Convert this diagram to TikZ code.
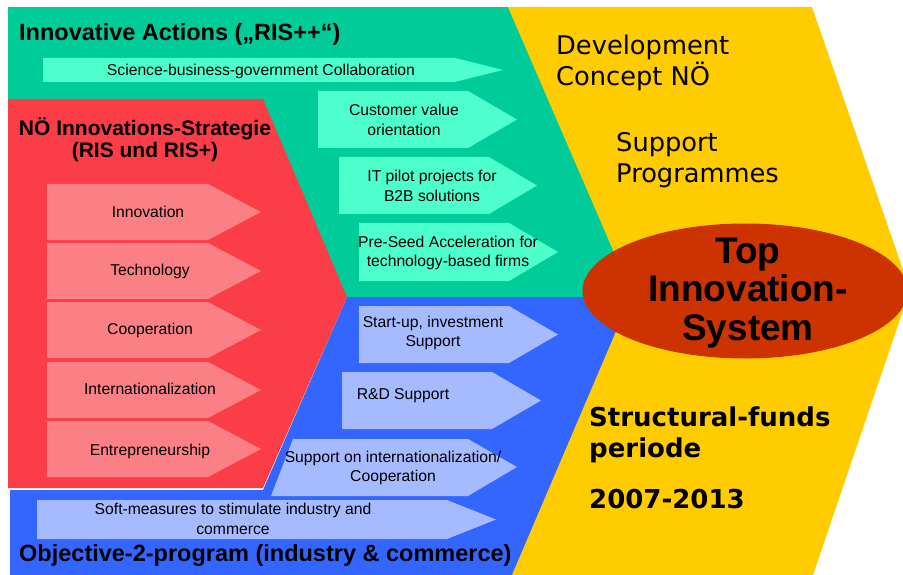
\documentclass[tikz,border=0pt]{standalone}
\usepackage{fontspec}
\setmainfont{Liberation Sans}
\newfontfamily\verafont{DejaVu Sans}
\usetikzlibrary{shapes.geometric}

\definecolor{grn}{RGB}{0,204,153}
\definecolor{grnlight}{RGB}{77,255,204}
\definecolor{rd}{RGB}{250,61,70}
\definecolor{rdlight}{RGB}{250,128,134}
\definecolor{blu}{RGB}{51,102,255}
\definecolor{blulight}{RGB}{166,187,255}
\definecolor{yel}{RGB}{255,204,0}
\definecolor{rust}{RGB}{204,51,0}

% arrow box: fill, left, top, body end, tip, bottom
\newcommand{\pfeil}[6]{\fill[#1] (#2,#3) -- (#4,#3) -- (#5,{(#3+#6)/2}) -- (#4,#6) -- (#2,#6) -- cycle;}

\tikzset{
  lbl/.style={font=\fontsize{15.7}{19.5}\selectfont, align=center, inner sep=0pt},
  head/.style={font=\bfseries\fontsize{23.5}{24}\selectfont, align=center, inner sep=0pt},
  big/.style={font=\verafont\fontsize{25.7}{31}\selectfont, align=left, anchor=west, inner sep=0pt},
  bigbf/.style={big, font=\verafont\bfseries\fontsize{26}{31}\selectfont},
}

\begin{document}
\begin{tikzpicture}[x=1pt, y=-1pt]
  \useasboundingbox[fill=white] (0,0) rectangle (903,575);

  % areas
  \fill[grn] (8,7) rectangle (640,297);
  \fill[blu] (10,490) -- (263,490) -- (347,297) -- (640,297) -- (640,575) -- (10,575) -- cycle;
  \fill[yel] (508,7) -- (812,7) -- (910,290) -- (813,575) -- (512,575) -- (632,294) -- cycle;
  \fill[rd] (8,99) -- (263,99) -- (347,297) -- (263,488) -- (8,488) -- cycle;

  % green arrows
  \pfeil{grnlight}{43}{58}{455}{503}{82}
  \pfeil{grnlight}{318}{91}{468}{517}{148}
  \pfeil{grnlight}{339}{157}{489}{537}{214}
  \pfeil{grnlight}{359}{223}{509}{558}{281}

  % red arrows
  \foreach \t in {184,243,302,362,421}
    {\pfeil{rdlight}{47}{\t}{208}{261}{\t+56}}

  % blue arrows
  \pfeil{blulight}{359}{306}{509}{558}{363}
  \pfeil{blulight}{342}{372}{492}{541}{429}
  \fill[blulight] (293,439) -- (468,439) -- (517,467) -- (468,496) -- (271,496) -- cycle;
  \pfeil{blulight}{37}{500}{447}{496}{539}

  % titles
  \node[head, anchor=west] (ia) at (19,34) {Innovative Actions („RIS++“)};
  \node[head, font=\bfseries\fontsize{21}{22}\selectfont] (ris) at (145,140) {NÖ Innovations-Strategie\\(RIS und RIS+)};
  \node[head, anchor=west] (obj) at (19,555) {Objective-2-program (industry \& commerce)};

  % labels
  \node[lbl] (sbg) at (261,71) {Science-business-government Collaboration};
  \node[lbl] (cvo) at (404,120) {Customer value\\orientation};
  \node[lbl] (itp) at (432,186) {IT pilot projects for\\B2B solutions};
  \node[lbl] (psa) at (448,253) {Pre-Seed Acceleration for\\technology-based firms};

  \node[lbl] (inno) at (148,212) {Innovation};
  \node[lbl] (tech) at (150,271) {Technology};
  \node[lbl] (coop) at (150,330) {Cooperation};
  \node[lbl] (intl) at (150,389) {Internationalization};
  \node[lbl] (entr) at (150,451) {Entrepreneurship};

  \node[lbl] (sup) at (433,333) {Start-up, investment\\Support};
  \node[lbl] (rnd) at (403,396) {R\&D Support};
  \node[lbl] (soi) at (393,468) {Support on internationalization/\\Cooperation};
  \node[lbl] (soft) at (233,519) {Soft-measures to stimulate industry and\\commerce};

  % yellow band
  \node[big] (dev) at (556,63) {Development\\Concept NÖ};
  \node[big] (prog) at (616,160) {Support\\Programmes};
  \node[bigbf] (sfp) at (589,435) {Structural-funds\\periode};
  \node[bigbf] (per) at (589,499) {2007-2013};

  \node[ellipse, fill=rust, inner sep=0pt, minimum width=325pt, minimum height=135pt] (top) at (745,291) {};
  \node[font=\bfseries\fontsize{37}{38.5}\selectfont, align=center, inner sep=0pt] (topl) at (748,293) {Top\\Innovation-\\System};
\end{tikzpicture}
\end{document}
